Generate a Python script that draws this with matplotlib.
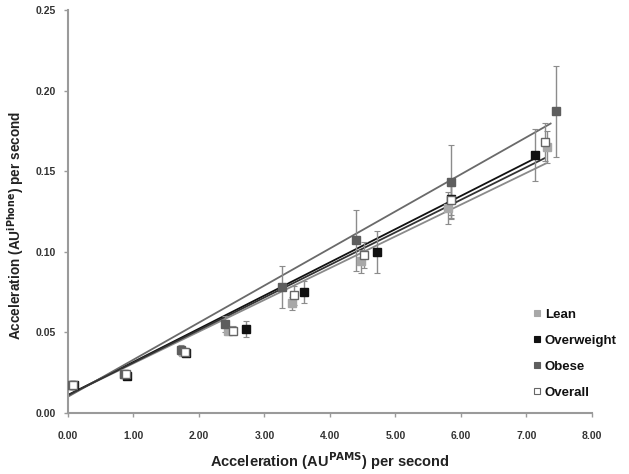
import numpy as np
import matplotlib
matplotlib.use("Agg")
import matplotlib.pyplot as plt

plt.rcParams['font.family'] = ['Liberation Sans', 'DejaVu Sans']

groups = ["Lean", "Overweight", "Obese", "Overall"]

lean_x = [0.05, 0.85, 1.75, 2.45, 3.42, 4.48, 5.80, 7.32]
lean_y = [0.017, 0.024, 0.038, 0.051, 0.068, 0.094, 0.127, 0.165]
lean_e = [0.001, 0.001, 0.002, 0.003, 0.004, 0.007, 0.010, 0.010]

over_x = [0.10, 0.90, 1.80, 2.72, 3.60, 4.72, 5.85, 7.13]
over_y = [0.017, 0.023, 0.037, 0.052, 0.075, 0.100, 0.133, 0.160]
over_e = [0.001, 0.001, 0.002, 0.005, 0.007, 0.013, 0.012, 0.016]

obese_x = [0.05, 0.85, 1.72, 2.40, 3.27, 4.40, 5.85, 7.45]
obese_y = [0.017, 0.024, 0.039, 0.055, 0.078, 0.107, 0.143, 0.187]
obese_e = [0.002, 0.002, 0.003, 0.005, 0.013, 0.019, 0.023, 0.028]

all_x = [0.08, 0.88, 1.78, 2.52, 3.45, 4.52, 5.85, 7.28]
all_y = [0.017, 0.024, 0.038, 0.051, 0.073, 0.098, 0.132, 0.168]
all_e = [0.001, 0.001, 0.002, 0.003, 0.006, 0.008, 0.009, 0.012]

# regression lines (slope, intercept, end of line)
fit_slope = [0.0197, 0.0206, 0.0230, 0.0202]
fit_intercept = [0.011, 0.011, 0.010, 0.011]
fit_xmax = [7.30, 7.13, 7.37, 7.28]

xticks = [0, 1, 2, 3, 4, 5, 6, 7, 8]
yticks = [0.00, 0.05, 0.10, 0.15, 0.20, 0.25]

series = [
    (lean_x, lean_y, lean_e, "#a8a8a8", "#a8a8a8", "#8a8a8a"),
    (over_x, over_y, over_e, "#111111", "#111111", "#111111"),
    (obese_x, obese_y, obese_e, "#5e5e5e", "#5e5e5e", "#6a6a6a"),
    (all_x, all_y, all_e, "#ffffff", "#666666", "#333333"),
]

fig = plt.figure(figsize=(6.29, 4.74), dpi=100)
ax = fig.add_axes([0.108, 0.129, 0.833, 0.850])

for (x, y, e, fc, ec, lc), m, b, xm in zip(series, fit_slope, fit_intercept, fit_xmax):
    xx = np.array([0.0, xm])
    ax.plot(xx, m * xx + b, color=lc, lw=1.3, zorder=2)

for (x, y, e, fc, ec, lc), name in zip(series, groups):
    ax.errorbar(x, y, yerr=e, fmt='none', ecolor='#8c8c8c', elinewidth=1.0,
                capsize=2, capthick=0.8, zorder=3)
    ax.plot(x, y, 's', ms=6, mfc=fc, mec=ec, mew=1.0, zorder=4, label=name)

ax.set_xlim(0, 8)
ax.set_ylim(0, 0.25)
ax.set_xticks(xticks)
ax.set_yticks(yticks)
ax.set_xticklabels([f"{v:.2f}" for v in xticks])
ax.set_yticklabels([f"{v:.2f}" for v in yticks])
for s in ["top", "right"]:
    ax.spines[s].set_visible(False)
for s in ["left", "bottom"]:
    ax.spines[s].set_color("#9a9a9a")
    ax.spines[s].set_linewidth(1.5)
ax.tick_params(axis='both', colors='#9a9a9a', length=3, width=1,
               labelsize=7.5, labelcolor='#333333')
for lab in ax.get_xticklabels() + ax.get_yticklabels():
    lab.set_fontweight('bold')
ax.tick_params(axis='x', pad=10)
ax.tick_params(axis='y', pad=6)

ax.set_xlabel("Acceleration (AU$^{\\mathbf{PAMS}}$) per second", fontsize=10.5,
              fontweight='bold', color='#222222', labelpad=7)
ax.set_ylabel("Acceleration (AU$^{\\mathbf{iPhone}}$) per second", fontsize=9.8,
              fontweight='bold', color='#222222')
ax.yaxis.set_label_coords(-0.08, 0.465)

leg_handles = []
for (x, y, e, fc, ec, lc), name in zip(series, groups):
    leg_handles.append(plt.Line2D([], [], marker='s', ls='none', ms=5,
                                  mfc=fc, mec=ec, mew=0.8))
leg = ax.legend(leg_handles, groups, loc='lower right', bbox_to_anchor=(1.07, 0.005),
                frameon=False, prop={'weight': 'bold', 'size': 9.5},
                handlelength=0.6, handletextpad=0.3, labelspacing=1.05)
for t in leg.get_texts():
    t.set_color('#111111')

fig.savefig("out.png", dpi=100)
